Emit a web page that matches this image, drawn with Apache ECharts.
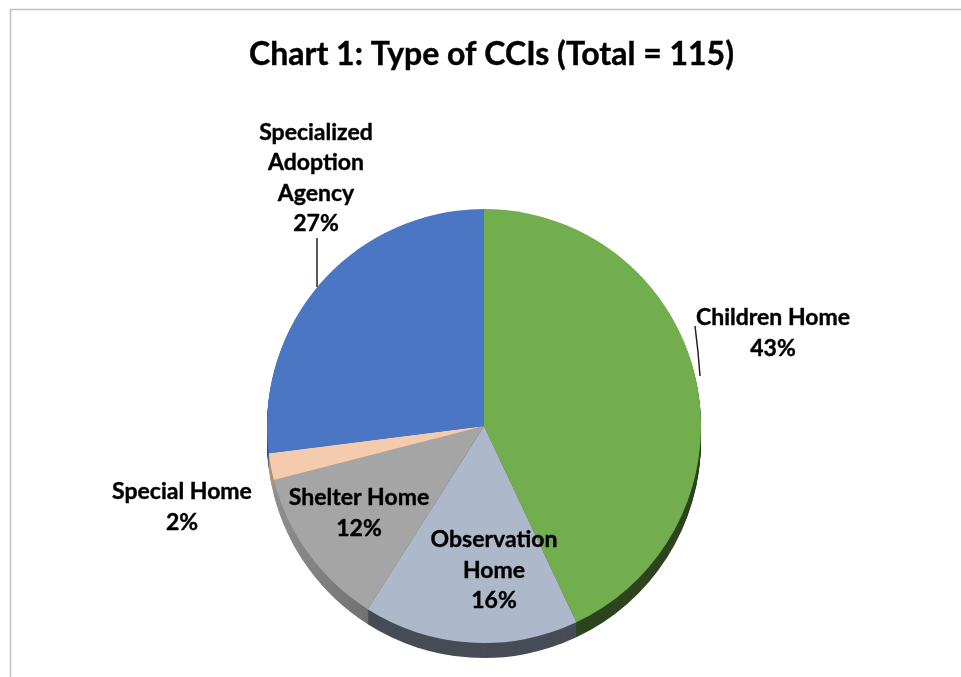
<!DOCTYPE html>
<html lang="en">
<head>
    <meta http-equiv="Content-Type" content="text/html; charset=UTF-8">
    <title>Chart 1: Type of CCIs</title>
    <script type="text/javascript" src="https://cdn.jsdelivr.net/npm/echarts@6/dist/echarts.min.js"></script>
    <style>
        html, body { margin: 0; padding: 0; background: #fff; }
        #chart { width: 961px; height: 677px; }
    </style>
</head>
<body>
<div id="chart"></div>
<script type="text/javascript">
    var categories = ['Children Home', 'Observation\nHome', 'Shelter Home', 'Special Home', 'Specialized\nAdoption\nAgency'];
    var shares = [43, 16, 12, 2, 27];

    var topColors = ['#72ad4e', '#adb9ca', '#a5a5a5', '#f4cbac', '#4a76c4'];
    var rimColors = ['#2d441f', '#474c56', {
        type: 'linear', x: 0, y: 0, x2: 1, y2: 0,
        colorStops: [{ offset: 0, color: '#8f8f8f' }, { offset: 1, color: '#4c4c4c' }]
    }, '#b8906f', '#2f528f'];

    // label centres and leader lines, in page pixels
    var labelCentres = [[773, 333], [494, 570.5], [359, 513], [182, 507], [316, 178]];
    var leaderLines = {
        0: [[695, 326], [698, 352], [700, 376]],
        4: [[317, 238], [317, 262], [317, 287]]
    };

    var centerX = 484, centerY = 426, radius = 217, depth = 15;

    function sliceData(colors) {
        return shares.map(function (v, i) {
            return { name: categories[i], value: v, itemStyle: { color: colors[i] } };
        });
    }

    var series = [];
    // rim of the tilted pie: same slices stacked downwards
    for (var d = depth; d > 0; d--) {
        series.push({
            type: 'pie',
            silent: true,
            radius: radius,
            center: [centerX, centerY + d],
            startAngle: 90,
            animation: false,
            label: { show: false },
            labelLine: { show: false },
            data: sliceData(rimColors)
        });
    }
    series.push({
        type: 'pie',
        radius: radius,
        center: [centerX, centerY],
        startAngle: 90,
        animation: false,
        avoidLabelOverlap: false,
        label: {
            show: true,
            position: 'outside',
            formatter: '{b}\n{c}%',
            color: '#000',
            fontFamily: 'Lato',
            fontWeight: 'bold',
            fontSize: 23,
            lineHeight: 30.5,
            align: 'center',
            textBorderColor: '#000',
            textBorderWidth: 0.4
        },
        labelLine: { show: true, lineStyle: { color: '#222', width: 1.5 } },
        labelLayout: function (params) {
            var c = labelCentres[params.dataIndex];
            var out = { x: c[0], y: c[1], align: 'center', verticalAlign: 'middle' };
            if (leaderLines[params.dataIndex]) {
                out.labelLinePoints = leaderLines[params.dataIndex];
            }
            return out;
        },
        data: sliceData(topColors).map(function (item, i) {
            item.labelLine = { show: !!leaderLines[i] };
            return item;
        })
    });

    var myChart = echarts.init(document.getElementById('chart'));
    myChart.setOption({
        backgroundColor: '#fff',
        title: {
            text: 'Chart 1: Type of CCIs (Total = 115)',
            left: 486.5,
            top: 50,
            textAlign: 'center',
            textVerticalAlign: 'middle',
            textStyle: { color: '#000', fontFamily: 'Lato', fontWeight: 'bold', fontSize: 32, textBorderColor: '#000', textBorderWidth: 0.4 }
        },
        graphic: [
            { type: 'line', silent: true, shape: { x1: 10, y1: 9.5, x2: 961, y2: 9.5 }, style: { stroke: '#bfbfbf', lineWidth: 1.5 } },
            { type: 'line', silent: true, shape: { x1: 10.5, y1: 9, x2: 10.5, y2: 677 }, style: { stroke: '#bfbfbf', lineWidth: 1.5 } }
        ],
        series: series
    });
</script>
</body>
</html>
